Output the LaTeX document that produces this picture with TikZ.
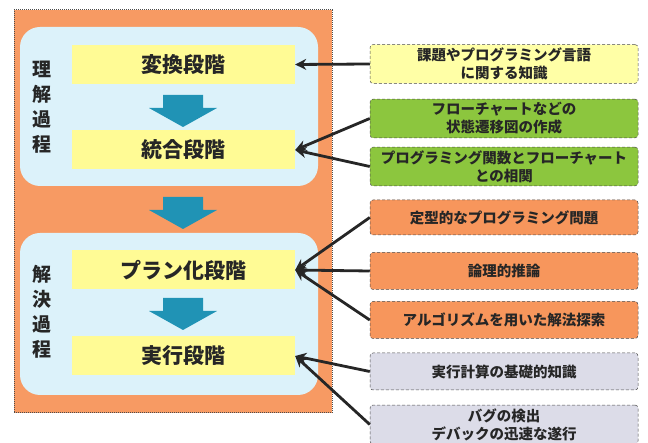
\documentclass[tikz,border=0pt]{standalone}
\usepackage{fontspec}
\setmainfont{Noto Sans CJK JP}
\usetikzlibrary{arrows.meta}
\definecolor{frameorange}{HTML}{F79A63}
\definecolor{paleblue}{HTML}{DCF2FA}
\definecolor{stageyellow}{HTML}{FFFB95}
\definecolor{arrowblue}{HTML}{2093B5}
\definecolor{kgreen}{HTML}{8CC63E}
\definecolor{korange}{HTML}{F7965C}
\definecolor{kgrey}{HTML}{DCDCE8}
\definecolor{kyellow}{HTML}{FFFFA6}

\begin{document}
\begin{tikzpicture}[x=1pt,y=-1pt,
      every node/.append style={text=black!85},
      stage/.style={fill=stageyellow,minimum width=223pt,minimum height=39pt,font=\bfseries\fontsize{21}{21}\selectfont},
      know/.style={rounded corners=3pt,draw=black!70,densely dashed,line width=0.5pt,
        minimum width=268pt,minimum height=37pt,align=center,font=\bfseries\fontsize{14.5}{18}\selectfont},
      region/.style={fill=paleblue,rounded corners=20pt,minimum width=298pt},
      sidelabel/.style={align=center,font=\bfseries\fontsize{19}{25}\selectfont},
      link/.style={line width=2.8pt,black!85,-{Stealth[length=11pt,width=11pt]}},
      flow/.pic={\fill[arrowblue] (-20,0) -- (20,0) -- (20,13) -- (34,13) -- (0,32) -- (-34,13) -- (-20,13) -- cycle;}]
    \useasboundingbox (0,0) rectangle (648,443);
    % left frame and the two processes
    \node[fill=frameorange,draw=black!70,densely dotted,line width=1pt,
      minimum width=318pt,minimum height=403pt] (frame) at (173,211.5) {};
    \node[region,minimum height=159pt] (understand) at (169,106.5) {};
    \node[region,minimum height=162pt] (solve) at (169,314) {};
    \node[sidelabel] (rikai) at (42,107) {理\\解\\過\\程};
    \node[sidelabel] (kaiketsu) at (42,312) {解\\決\\過\\程};
    % stages
    \node[stage] (henkan) at (183.5,64.5) {変換段階};
    \node[stage] (tougou) at (183.5,150) {統合段階};
    \node[stage] (plan) at (183.5,270) {プラン化段階};
    \node[stage] (jikkou) at (183.5,356) {実行段階};
    \pic at (183,95) {flow};
    \pic at (183,197) {flow};
    \pic at (183,298) {flow};
    % knowledge
    \node[know,fill=kyellow] (k1) at (504,64) {課題やプログラミング言語\\に関する知識};
    \node[know,fill=kgreen] (k2) at (504,118.5) {フローチャートなどの\\状態遷移図の作成};
    \node[know,fill=kgreen] (k3) at (504,166.5) {プログラミング関数とフローチャート\\との相関};
    \node[know,fill=korange,minimum height=35pt] (k4) at (504,217.5) {定型的なプログラミング問題};
    \node[know,fill=korange] (k5) at (504,271) {論理的推論};
    \node[know,fill=korange] (k6) at (504,320) {アルゴリズムを用いた解法探索};
    \node[know,fill=kgrey] (k7) at (504,371.5) {実行計算の基礎的知識};
    \node[know,fill=kgrey,minimum height=35pt] (k8) at (504,424.5) {バグの検出\\デバックの迅速な遂行};
    \draw[link] (k1.west) -- (henkan.east);
    \draw[link] (k2.west) -- (tougou.east);
    \draw[link] (k3.west) -- (tougou.east);
    \draw[link] (k4.west) -- (plan.east);
    \draw[link] (k5.west) -- (plan.east);
    \draw[link] (k6.west) -- (plan.east);
    \draw[link] (k7.west) -- (jikkou.east);
    \draw[link] (k8.west) -- (jikkou.east);
\end{tikzpicture}
\end{document}
